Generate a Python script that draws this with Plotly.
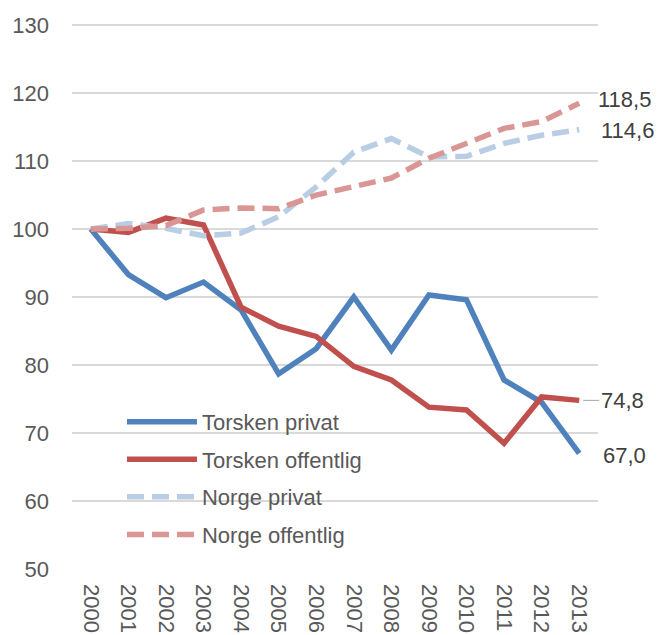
import plotly.graph_objects as go

years = [str(y) for y in range(2000, 2014)]
torsken_privat = [100, 93.3, 89.9, 92.2, 88.1, 78.7, 82.4, 90.0, 82.2, 90.3, 89.6, 77.8, 74.5, 67.0]
torsken_offentlig = [100, 99.5, 101.6, 100.6, 88.5, 85.7, 84.2, 79.8, 77.8, 73.8, 73.4, 68.5, 75.3, 74.8]
norge_privat = [100, 100.8, 100.1, 99.0, 99.4, 101.8, 106.2, 111.3, 113.3, 110.6, 110.7, 112.6, 113.8, 114.6]
norge_offentlig = [100, 100.1, 100.5, 102.8, 103.1, 103.0, 105.0, 106.2, 107.5, 110.4, 112.6, 114.8, 115.8, 118.5]
y_ticks = [50, 60, 70, 80, 90, 100, 110, 120, 130]

FONT = "Liberation Sans, Arial, sans-serif"
FS = 22
DASH = "17px,8px"

fig = go.Figure()
series = [
    ("Torsken privat", torsken_privat, "#4F81BD", "solid"),
    ("Torsken offentlig", torsken_offentlig, "#C0504D", "solid"),
    ("Norge privat", norge_privat, "#B9CDE5", DASH),
    ("Norge offentlig", norge_offentlig, "#D99694", DASH),
]
for i, (name, vals, col, dash) in enumerate(series):
    fig.add_trace(go.Scatter(
        x=years, y=vals, name=name, mode="lines",
        line=dict(color=col, width=5.5, dash=dash),
        legendgroup=f"g{i}",
    ))

def fmt(v):
    return f"{v:.1f}".replace(".", ",")

annotations = []
ann = [
    (norge_offentlig[-1], 45, 4, False),
    (norge_privat[-1], 48, -1, False),
    (torsken_offentlig[-1], 0, 0, True),
    (torsken_privat[-1], 45, -2, False),
]
for v, xs, ys, arrow in ann:
    if arrow:
        annotations.append(dict(x=len(years) - 1, y=v, xref="x", yref="y", text=fmt(v),
                                showarrow=True, arrowhead=0, arrowwidth=1, arrowcolor="#A6A6A6",
                                ax=43, ay=0, standoff=4,
                                font=dict(family=FONT, size=FS, color="#404040")))
    else:
        annotations.append(dict(x=len(years) - 1, y=v, xref="x", yref="y", text=fmt(v),
                                showarrow=False, xshift=xs, yshift=ys,
                                font=dict(family=FONT, size=FS, color="#404040")))

fig.update_layout(
    width=659, height=635,
    margin=dict(l=72, r=61, t=23, b=66, autoexpand=False),
    paper_bgcolor="white", plot_bgcolor="white",
    font=dict(family=FONT, size=FS, color="#595959"),
    showlegend=True,
    annotations=annotations,
    legend=dict(
        x=0.095, y=0.308, xanchor="left", yanchor="top",
        bgcolor="rgba(0,0,0,0)",
        font=dict(family=FONT, size=FS, color="#595959"),
        itemwidth=70, traceorder="grouped", tracegroupgap=6,
    ),
    xaxis=dict(
        type="category", range=[-0.5, 13.5],
        tickangle=90, showgrid=False, showline=False, zeroline=False,
        ticks="", ticklabelstandoff=14,
        tickfont=dict(family=FONT, size=FS, color="#595959"),
    ),
    yaxis=dict(
        range=[50, 130.3], tickvals=y_ticks, showgrid=True, gridcolor="#D9D9D9",
        gridwidth=1.5, zeroline=False, showline=False, ticks="",
        ticklabelstandoff=22,
        tickfont=dict(family=FONT, size=FS, color="#595959"),
    ),
)

fig.write_html("out.html", post_script="document.body.style.margin='0';",
               config={"displayModeBar": False})
